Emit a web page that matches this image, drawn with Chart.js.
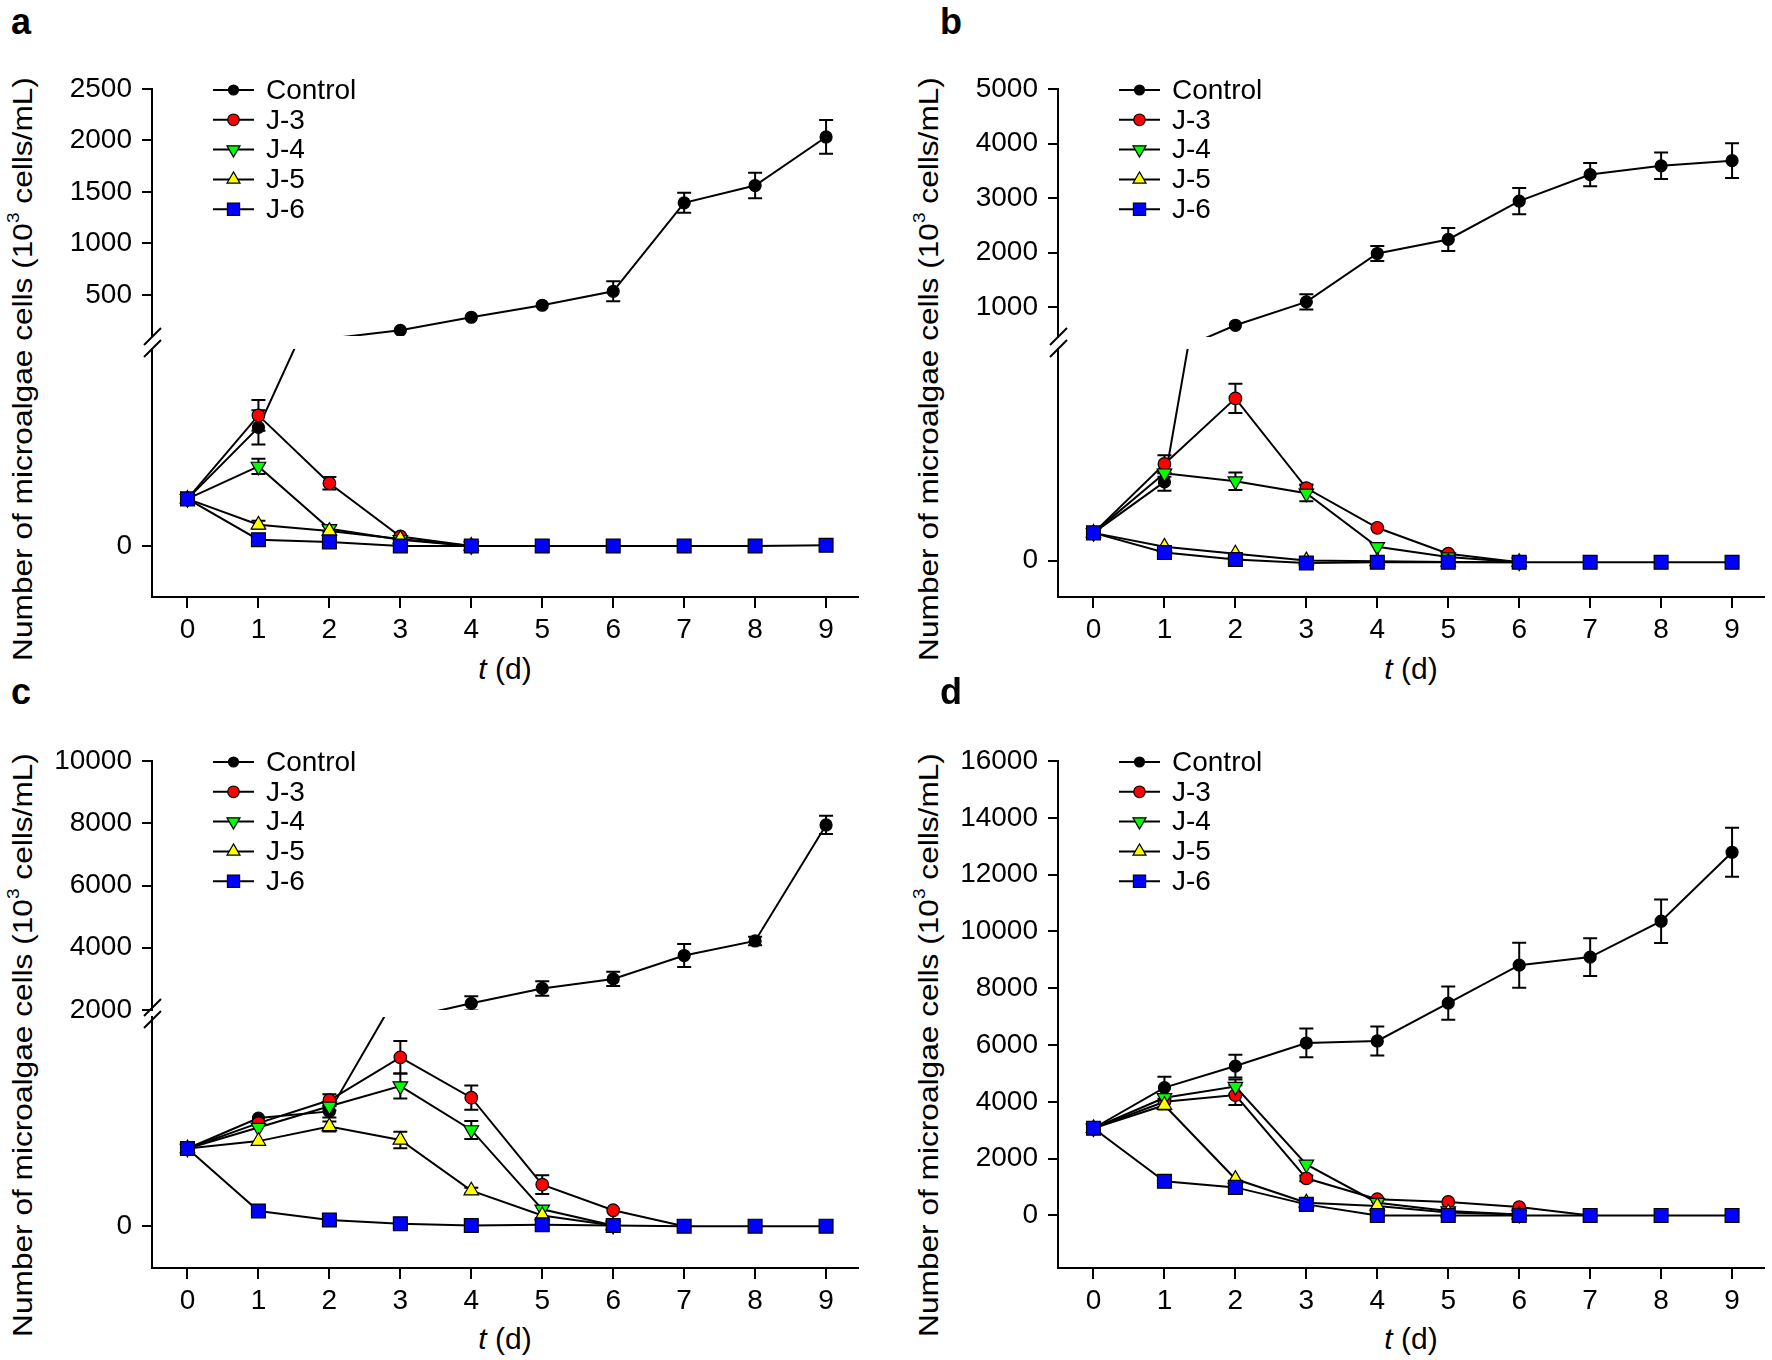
<!DOCTYPE html>
<html><head><meta charset="utf-8">
<script src="https://cdn.jsdelivr.net/npm/chart.js@4.4.1/dist/chart.umd.min.js"></script>
<style>
html,body{margin:0;padding:0;background:#fff;}
body{width:1772px;height:1360px;position:relative;overflow:hidden;font-family:'Liberation Sans',Arial,sans-serif;color:#000;}
canvas{position:absolute;}
.ytitle{position:absolute;white-space:nowrap;font-size:28px;line-height:30px;transform:translate(-50%,-50%) rotate(-90deg) scaleX(1.13);}
.ytitle sup{font-size:0.6em;line-height:0;vertical-align:0.75em;}
.xtitle{position:absolute;white-space:nowrap;font-size:30px;line-height:34px;transform:translate(-50%,-50%);}
.letter{position:absolute;font-weight:bold;font-size:36px;line-height:36px;}
</style></head><body>
<script>
// ---------- data ----------
const DAYS = [0, 1, 2, 3, 4, 5, 6, 7, 8, 9];
const X_TICKS = [0, 1, 2, 3, 4, 5, 6, 7, 8, 9];
const SERIES = ['Control', 'J-3', 'J-4', 'J-5', 'J-6'];
const LOWER_TICKS = [0];

// panel a
const A_CONTROL = [12.9, 32.5, 75, 155, 282, 399, 534, 1394, 1562, 2034];
const A_CONTROL_ERR = [0, 4.7, 0, 0, 0, 0, 97, 97, 124, 164];
const A_J3 = [12.9, 35.8, 17.2, 2.6, 0];
const A_J3_ERR = [0, 4.2, 1.7, 0, 0];
const A_J4 = [12.9, 21.8, 4.7, 1.7, 0];
const A_J4_ERR = [0, 2.1, 0.8, 0, 0];
const A_J5 = [12.9, 5.8, 4.1, 1.9, 0];
const A_J5_ERR = [0, 1.1, 0, 0, 0];
const A_J6 = [12.9, 1.7, 1.1, 0, 0, 0, 0, 0, 0, 0.2];
const A_J6_ERR = [0, 0, 0, 0, 0, 0, 0, 0, 0, 0];
const A_UPPER_TICKS = [500, 1000, 1500, 2000, 2500];

// panel b
const B_CONTROL = [37.9, 107.8, 665, 1095, 1982, 2240, 2943, 3430, 3590, 3685];
const B_CONTROL_ERR = [0, 12, 0, 139, 136, 212, 240, 212, 243, 320];
const B_J3 = [37.9, 132.4, 222.3, 99.3, 44.9, 9.4, -2.3];
const B_J3_ERR = [0, 12, 20, 5, 0, 0, 0];
const B_J4 = [37.9, 119.7, 108.8, 92.2, 18.9, 4.8, -2.3];
const B_J4_ERR = [0, 5, 12, 11, 0, 0, 0];
const B_J5 = [37.9, 18.9, 9.4, 0, -1, -2, -2.3];
const B_J5_ERR = [0, 0, 0, 0, 0, 0, 0];
const B_J6 = [37.9, 10.9, 1.4, -3.3, -2.3, -2.3, -2.3, -2.3, -2.3, -2.3];
const B_J6_ERR = [0, 0, 0, 0, 0, 0, 0, 0, 0, 0];
const B_UPPER_TICKS = [1000, 2000, 3000, 4000, 5000];

// panel c
const C_CONTROL = [557, 775, 823, 1700, 2215, 2693, 2998, 3750, 4218, 7945];
const C_CONTROL_ERR = [0, 0, 43, 0, 229, 234, 229, 370, 136, 294];
const C_J3 = [557, 739, 903, 1211, 921, 298, 114, 0];
const C_J3_ERR = [0, 0, 43, 117, 87, 67, 0, 0];
const C_J4 = [557, 707, 860, 1005, 690, 121, 5];
const C_J4_ERR = [0, 0, 30, 89, 65, 0, 0];
const C_J5 = [557, 610, 715, 618, 255, 77, 5];
const C_J5_ERR = [0, 0, 36, 59, 21, 0, 0];
const C_J6 = [557, 109, 44, 17, 5, 10, 5, 0, 0, 0];
const C_J6_ERR = [0, 0, 0, 0, 0, 0, 0, 0, 0, 0];
const C_UPPER_TICKS = [2000, 4000, 6000, 8000, 10000];

// panel d
const D_CONTROL = [3070, 4500, 5260, 6072, 6143, 7476, 8811, 9096, 10359, 12788];
const D_CONTROL_ERR = [0, 387, 400, 506, 512, 584, 792, 667, 763, 864];
const D_J3 = [3070, 4000, 4237, 1308, 570, 475, 295, 0];
const D_J3_ERR = [0, 0, 345, 100, 0, 0, 0, 0];
const D_J4 = [3070, 4142, 4536, 1797, 450, 155, 30];
const D_J4_ERR = [0, 0, 250, 0, 0, 0, 0];
const D_J5 = [3070, 3882, 1283, 450, 333, 100, 30];
const D_J5_ERR = [0, 150, 0, 0, 0, 0, 0];
const D_J6 = [3070, 1203, 988, 390, 0, 0, 0, 0, 0, 0];
const D_J6_ERR = [0, 0, 0, 0, 0, 0, 0, 0, 0, 0];
const D_TICKS = [0, 2000, 4000, 6000, 8000, 10000, 12000, 14000, 16000];

// ---------- styles ----------
const STYLES = [
  {style: 'circle', rot: 0, r: 6.0, fill: '#000000', lr: 5.0},
  {style: 'circle', rot: 0, r: 6.3, fill: '#ff0000', lr: 5.8},
  {style: 'triangle', rot: 180, r: 8.4, fill: '#00ff00', lr: 7.5},
  {style: 'triangle', rot: 0, r: 8.4, fill: '#ffff00', lr: 7.5},
  {style: 'rect', rot: 0, r: 9.8, fill: '#0000ff', lr: 8.6}
];
Chart.defaults.font.family = "'Liberation Sans', Arial, sans-serif";
Chart.defaults.color = '#000';

function drawMarker(ctx, style, rot, r, x, y, fill) {
  ctx.beginPath();
  if (style === 'circle') {
    ctx.arc(x, y, r, 0, Math.PI * 2);
  } else if (style === 'rect') {
    const s = r * Math.SQRT1_2;
    ctx.rect(x - s, y - s, 2 * s, 2 * s);
  } else {
    let a = rot * Math.PI / 180;
    for (let k = 0; k < 3; k++) {
      const px = x + Math.sin(a) * r, py = y - Math.cos(a) * r;
      if (k) ctx.lineTo(px, py); else ctx.moveTo(px, py);
      a += 2 * Math.PI / 3;
    }
    ctx.closePath();
  }
  ctx.fillStyle = fill; ctx.fill();
  ctx.lineWidth = 1.2; ctx.strokeStyle = '#000'; ctx.stroke();
}

function inRange(scale, v) { return v >= scale.min && v <= scale.max; }

const errorBarPlugin = {
  id: 'errorBars',
  beforeDatasetsDraw(chart) {
    const ctx = chart.ctx, a = chart.chartArea;
    ctx.save();
    ctx.beginPath(); ctx.rect(a.left, a.top, a.right - a.left, a.bottom - a.top); ctx.clip();
    ctx.strokeStyle = '#000'; ctx.lineWidth = 2;
    chart.data.datasets.forEach((ds, i) => {
      if (!ds.errors) return;
      const meta = chart.getDatasetMeta(i);
      const ys = chart.scales[meta.yAxisID];
      meta.data.forEach((pt, j) => {
        const e = ds.errors[j];
        const v = ds.data[j].y;
        if (!e || !inRange(ys, v)) return;
        const y1 = ys.getPixelForValue(v + e), y2 = ys.getPixelForValue(v - e);
        ctx.beginPath();
        ctx.moveTo(pt.x, y1); ctx.lineTo(pt.x, y2);
        ctx.moveTo(pt.x - 7, y1); ctx.lineTo(pt.x + 7, y1);
        ctx.moveTo(pt.x - 7, y2); ctx.lineTo(pt.x + 7, y2);
        ctx.stroke();
      });
    });
    ctx.restore();
  }
};

const legendPlugin = {
  id: 'inlineLegend',
  afterDatasetsDraw(chart, args, o) {
    if (!o || !o.show) return;
    const ctx = chart.ctx, a = chart.chartArea;
    ctx.save();
    chart.data.datasets.forEach((ds, i) => {
      const y = a.top + o.dy + i * o.rowH;
      const x0 = a.left + o.dx;
      ctx.strokeStyle = '#000'; ctx.lineWidth = 2;
      ctx.beginPath(); ctx.moveTo(x0, y); ctx.lineTo(x0 + o.lineW, y); ctx.stroke();
      drawMarker(ctx, ds.pointStyle, ds.pointRotation, ds.legendRadius, x0 + o.lineW / 2, y, ds.pointBackgroundColor);
      ctx.fillStyle = '#000'; ctx.font = o.font; ctx.textBaseline = 'middle'; ctx.textAlign = 'left';
      ctx.fillText(ds.label, x0 + o.lineW + o.gap, y + 1);
    });
    ctx.restore();
  }
};

const breakPlugin = {
  id: 'axisBreak',
  afterDraw(chart, args, o) {
    if (!o || !o.show) return;
    const ctx = chart.ctx, a = chart.chartArea, x = a.left;
    ctx.save(); ctx.strokeStyle = '#000'; ctx.lineWidth = 2;
    [a.top + o.low, a.top + o.low - o.gap].forEach(y => {
      ctx.beginPath(); ctx.moveTo(x - 8, y + 8); ctx.lineTo(x + 9, y - 9); ctx.stroke();
    });
    ctx.restore();
  }
};

function makeDatasets(vals, errs) {
  return SERIES.map((name, i) => ({
    label: name,
    data: vals[i].map((v, j) => ({x: DAYS[j], y: v})),
    errors: errs[i],
    borderColor: '#000', borderWidth: 2,
    pointStyle: STYLES[i].style, pointRotation: STYLES[i].rot,
    // markers are only drawn for values that fall inside this axis segment
    pointRadius: c => (c.raw && inRange(c.chart.scales.y, c.raw.y)) ? STYLES[i].r : 0,
    pointBackgroundColor: STYLES[i].fill, pointBorderColor: '#000', pointBorderWidth: 1.2,
    legendRadius: STYLES[i].lr,
    order: SERIES.length - i,
    clip: 0, tension: 0, fill: false
  }));
}

const YW = 112, PR = 8;
function buildChart(cfg) {
  const cv = document.createElement('canvas');
  const left = cfg.l - YW, top = cfg.t - cfg.padT;
  const w = (cfg.r - cfg.l) + YW + PR;
  const h = (cfg.b - cfg.t) + cfg.padT + cfg.padB + cfg.xh;
  cv.width = w; cv.height = h;
  cv.style.left = left + 'px'; cv.style.top = top + 'px';
  cv.style.width = w + 'px'; cv.style.height = h + 'px';
  document.body.appendChild(cv);
  new Chart(cv, {
    type: 'line',
    data: {datasets: makeDatasets(cfg.vals, cfg.errs)},
    options: {
      responsive: false, animation: false, devicePixelRatio: 1,
      events: [],
      layout: {padding: {top: cfg.padT, bottom: cfg.padB, left: 0, right: PR}},
      plugins: {
        legend: {display: false}, tooltip: {enabled: false},
        inlineLegend: {show: !!cfg.legend, dx: 61, dy: 1, rowH: 29.8, lineW: 41, gap: 12, font: "28px 'Liberation Sans', Arial, sans-serif"},
        axisBreak: cfg.brk ? {show: true, low: cfg.brk.low, gap: cfg.brk.gap} : {show: false}
      },
      scales: {
        x: {
          type: 'linear', min: -0.5, max: 9.45, display: cfg.showX,
          afterBuildTicks: s => { s.ticks = X_TICKS.map(v => ({value: v})); },
          afterFit: s => { s.height = cfg.xh; },
          grid: {display: true, drawOnChartArea: false, drawTicks: true, tickLength: 11, color: '#000', lineWidth: 2},
          border: {display: true, color: '#000', width: 2},
          ticks: {autoSkip: false, maxRotation: 0, padding: 5, color: '#000',
                  font: {size: 28, family: "'Liberation Sans Narrow', 'Liberation Sans', Arial, sans-serif"},
                  callback: v => String(v)}
        },
        y: {
          type: 'linear', min: cfg.min, max: cfg.max,
          afterBuildTicks: s => { s.ticks = cfg.ticks.map(v => ({value: v})); },
          afterFit: s => { s.width = YW; },
          grid: {display: true, drawOnChartArea: false, drawTicks: true, tickLength: 10, color: '#000', lineWidth: 2},
          border: {display: true, color: '#000', width: 2},
          ticks: {autoSkip: false, padding: 10, color: '#000', font: {size: 28}, callback: v => String(v)}
        }
      }
    },
    plugins: [errorBarPlugin, legendPlugin, breakPlugin]
  });
}

const PANELS = [
  {letter: 'a', vals: [A_CONTROL, A_J3, A_J4, A_J5, A_J6], errs: [A_CONTROL_ERR, A_J3_ERR, A_J4_ERR, A_J5_ERR, A_J6_ERR],
   l: 152, r: 858, upper: {t: 89, b: 336, min: 100, max: 2500, ticks: A_UPPER_TICKS},
   lower: {t: 349, b: 597, min: -14, max: 54, ticks: LOWER_TICKS}, brk: {low: 0, gap: 12},
   letterPos: [11, 4], yTitle: [22.5, 369], xTitle: [505, 669]},
  {letter: 'b', vals: [B_CONTROL, B_J3, B_J4, B_J5, B_J6], errs: [B_CONTROL_ERR, B_J3_ERR, B_J4_ERR, B_J5_ERR, B_J6_ERR],
   l: 1058, r: 1764, upper: {t: 89, b: 337, min: 450, max: 5000, ticks: B_UPPER_TICKS},
   lower: {t: 349, b: 597, min: -50, max: 290, ticks: LOWER_TICKS}, brk: {low: 0, gap: 12},
   letterPos: [940, 4], yTitle: [928.5, 369], xTitle: [1411, 669]},
  {letter: 'c', vals: [C_CONTROL, C_J3, C_J4, C_J5, C_J6], errs: [C_CONTROL_ERR, C_J3_ERR, C_J4_ERR, C_J5_ERR, C_J6_ERR],
   l: 152, r: 858, upper: {t: 761, b: 1010, min: 2000, max: 10000, ticks: C_UPPER_TICKS},
   lower: {t: 1017, b: 1268, min: -300, max: 1500, ticks: LOWER_TICKS}, brk: {low: 3, gap: 12},
   letterPos: [11, 674], yTitle: [22.5, 1045], xTitle: [505, 1339]},
  {letter: 'd', vals: [D_CONTROL, D_J3, D_J4, D_J5, D_J6], errs: [D_CONTROL_ERR, D_J3_ERR, D_J4_ERR, D_J5_ERR, D_J6_ERR],
   l: 1058, r: 1764, single: {t: 761, b: 1268, min: -1850, max: 16000, ticks: D_TICKS},
   letterPos: [940, 674], yTitle: [928.5, 1045], xTitle: [1411, 1339]}
];

PANELS.forEach(p => {
  const yt = document.createElement('div');
  yt.className = 'ytitle';
  yt.style.left = p.yTitle[0] + 'px'; yt.style.top = p.yTitle[1] + 'px';
  yt.innerHTML = 'Number of microalgae cells (10<sup>3</sup> cells/mL)';
  document.body.appendChild(yt);
  const xt = document.createElement('div');
  xt.className = 'xtitle';
  xt.style.left = p.xTitle[0] + 'px'; xt.style.top = p.xTitle[1] + 'px';
  xt.innerHTML = '<i>t</i> (d)';
  document.body.appendChild(xt);
  const lt = document.createElement('div');
  lt.className = 'letter';
  lt.style.left = p.letterPos[0] + 'px'; lt.style.top = p.letterPos[1] + 'px';
  lt.textContent = p.letter;
  document.body.appendChild(lt);

  if (p.single) {
    buildChart({vals: p.vals, errs: p.errs, l: p.l, r: p.r, t: p.single.t, b: p.single.b,
      min: p.single.min, max: p.single.max, ticks: p.single.ticks, padT: 32, padB: 0, xh: 100, showX: true, legend: true});
  } else {
    buildChart({vals: p.vals, errs: p.errs, l: p.l, r: p.r, t: p.upper.t, b: p.upper.b,
      min: p.upper.min, max: p.upper.max, ticks: p.upper.ticks, padT: 32, padB: 32, xh: 0, showX: false, legend: true});
    buildChart({vals: p.vals, errs: p.errs, l: p.l, r: p.r, t: p.lower.t, b: p.lower.b,
      min: p.lower.min, max: p.lower.max, ticks: p.lower.ticks, padT: 32, padB: 0, xh: 100, showX: true, brk: p.brk});
  }
});
</script>
</body></html>
